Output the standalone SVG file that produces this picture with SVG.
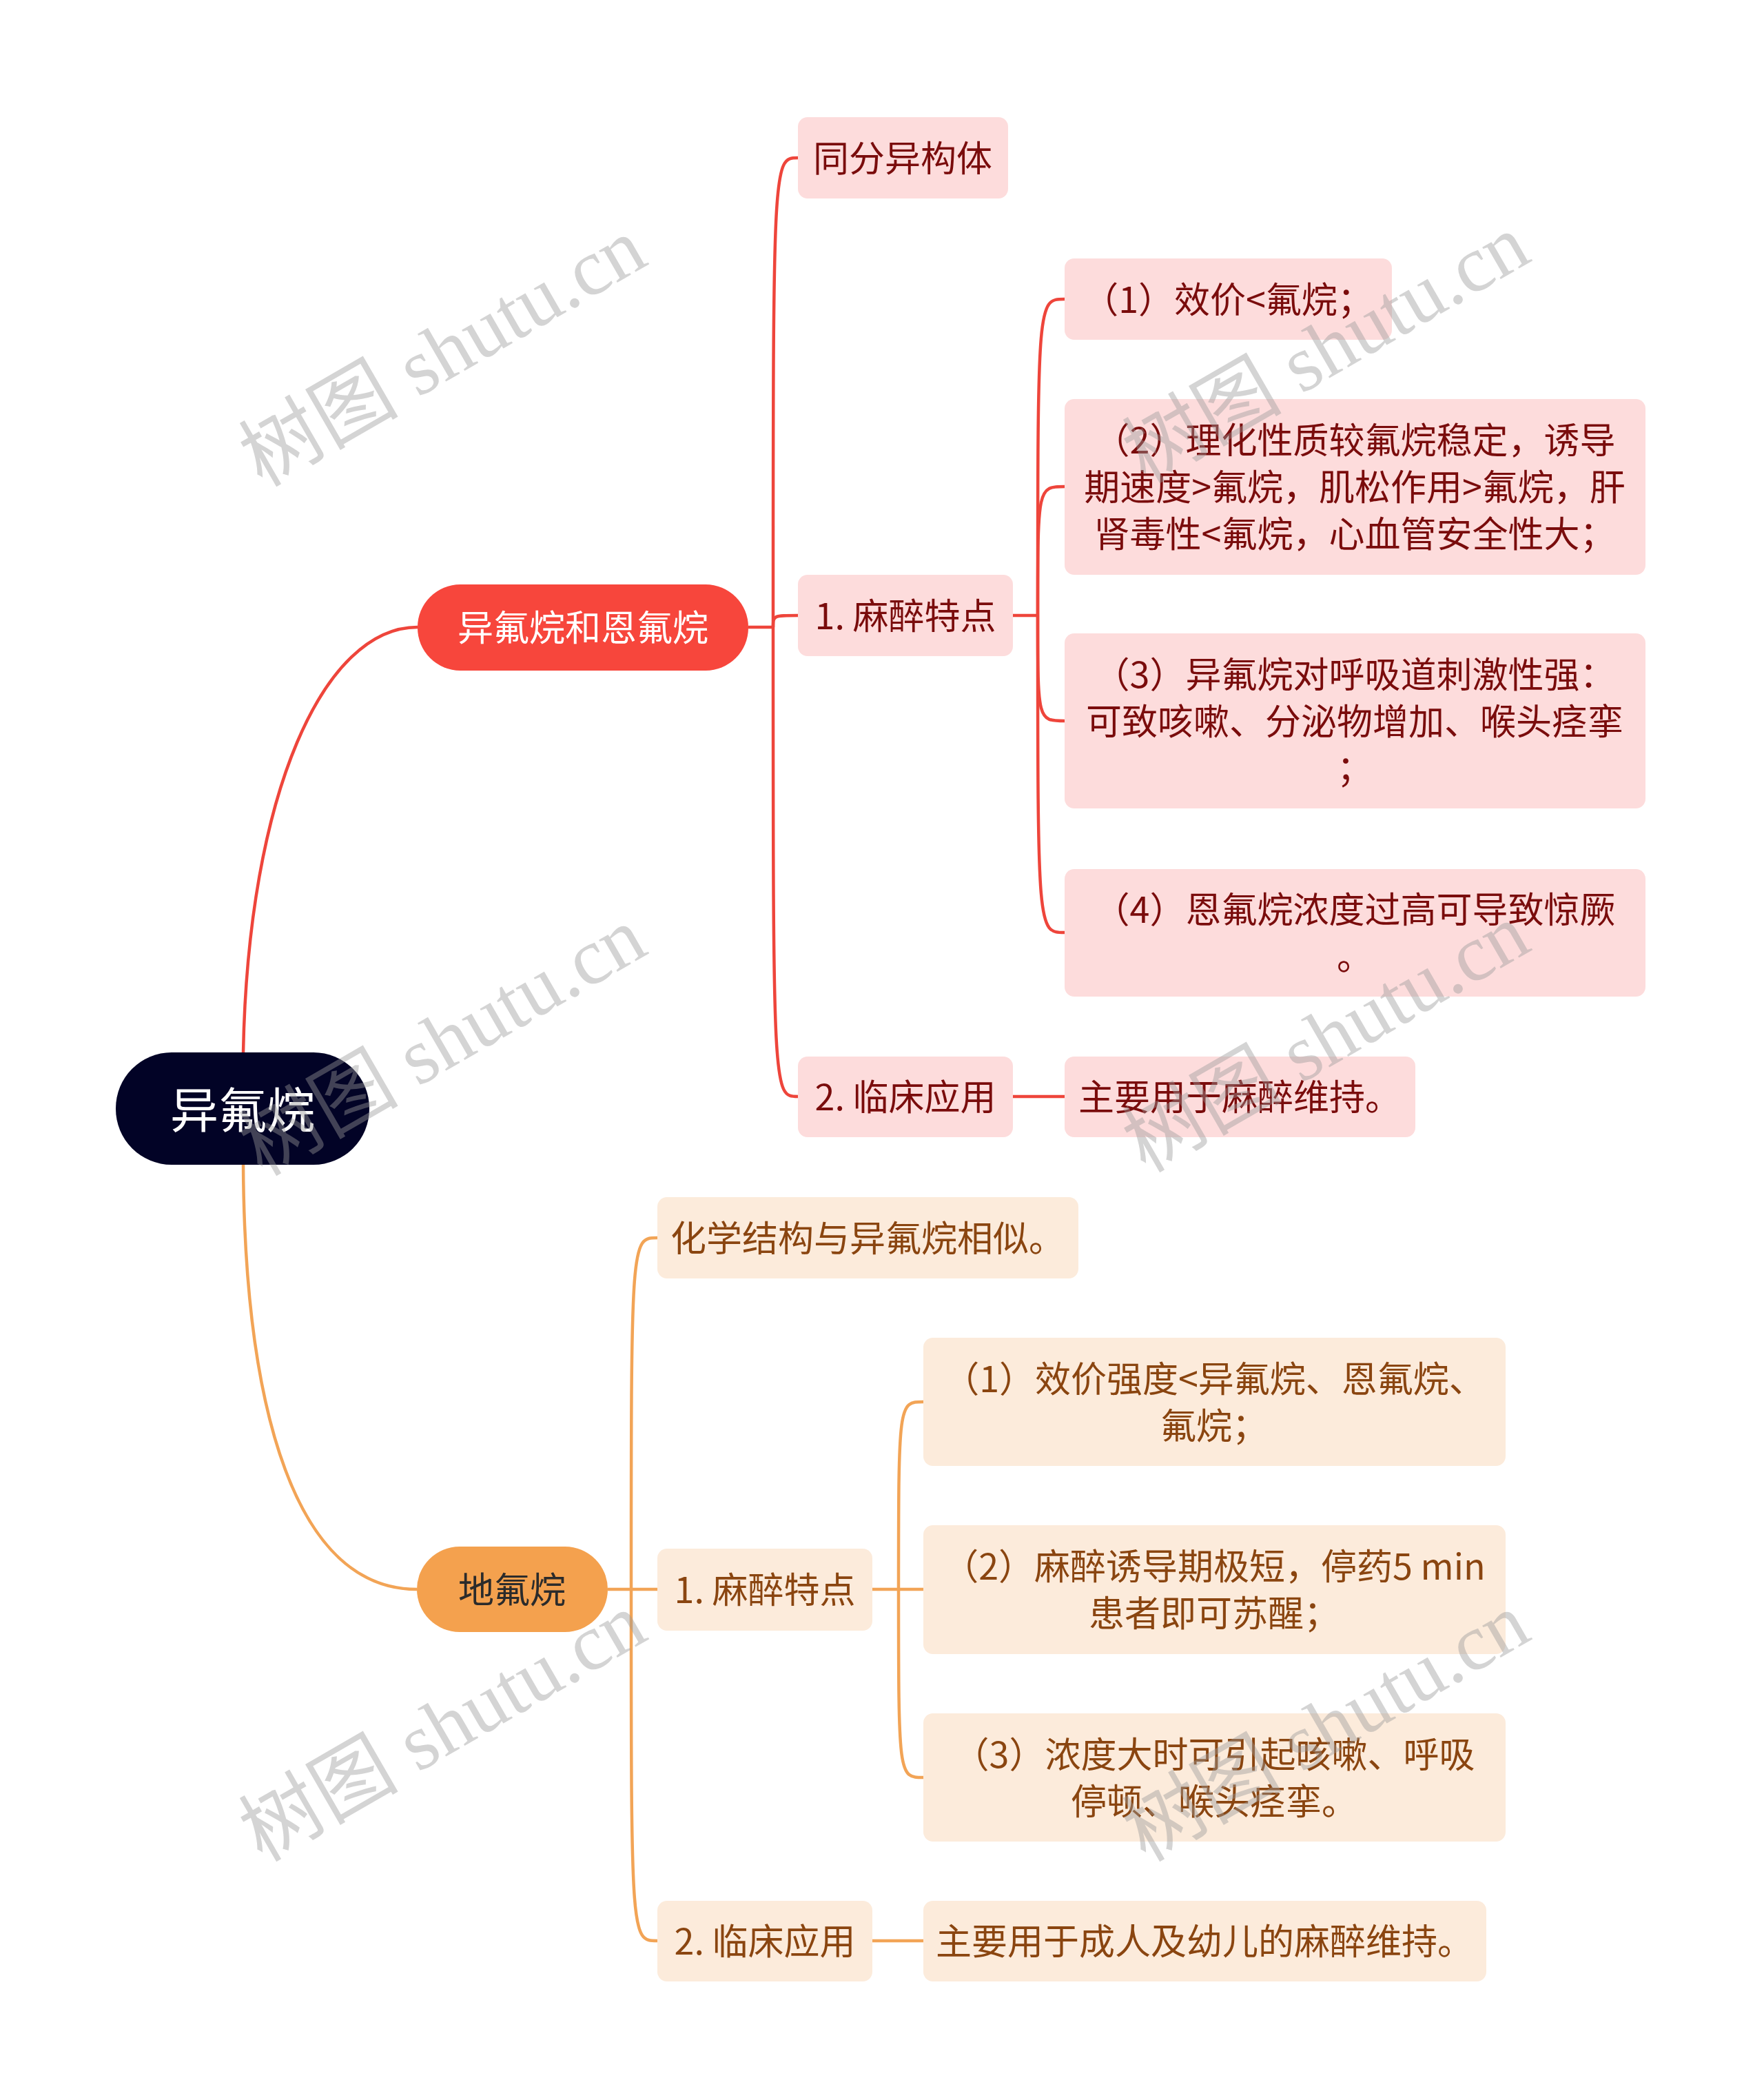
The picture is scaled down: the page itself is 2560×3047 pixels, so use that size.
<svg xmlns="http://www.w3.org/2000/svg" width="2560" height="3047" viewBox="0 0 2560 3047">
<style>
text{font-family:"Noto Sans CJK SC","Noto Sans",sans-serif;text-anchor:middle;dominant-baseline:central}
.root rect{fill:#020326}
.root text{fill:#ffffff;font-size:70px}
.l1r rect{fill:#F7463C}
.l1r text{fill:#ffffff;font-size:52px}
.l1o rect{fill:#F4A14E}
.l1o text{fill:#2B2B2B;font-size:52px}
.r rect{fill:#FDDCDC}
.r text{fill:#7A0C0C;font-size:52px}
.o rect{fill:#FCEBDB}
.o text{fill:#8A4510;font-size:52px}
.cr{fill:none;stroke:#EE453B;stroke-width:4.5}
.co{fill:none;stroke:#F2A456;stroke-width:4.5}
.wm{font-family:"Liberation Serif","Noto Sans CJK SC",serif;font-size:116px;fill:#9a9a9a;opacity:0.42;dominant-baseline:auto}
</style>
<rect width="2560" height="3047" fill="#ffffff"/>
<g id="connectors">
<path class="cr" d="M353 1528 C360 1150 470 910 606 910"/>
<path class="co" d="M353 1688 C355 2050 430 2306 605 2306"/>
<path class="cr" d="M1086 910 H1122"/>
<path class="cr" d="M1122 910 C1122 229 1122 229 1158 229"/>
<path class="cr" d="M1122 910 C1122 893 1122 893 1158 893"/>
<path class="cr" d="M1122 910 C1122 1591 1122 1591 1158 1591"/>
<path class="cr" d="M1470 893 H1506"/>
<path class="cr" d="M1506 893 C1506 434 1506 434 1545 434"/>
<path class="cr" d="M1506 893 C1506 706 1506 706 1545 706"/>
<path class="cr" d="M1506 893 C1506 1046 1506 1046 1545 1046"/>
<path class="cr" d="M1506 893 C1506 1353 1506 1353 1545 1353"/>
<path class="cr" d="M1470 1591 H1545"/>
<path class="co" d="M882 2306 H916"/>
<path class="co" d="M916 2306 C916 1796 916 1796 954 1796"/>
<path class="co" d="M916 2306 H954"/>
<path class="co" d="M916 2306 C916 2816 916 2816 954 2816"/>
<path class="co" d="M1266 2306 H1304"/>
<path class="co" d="M1304 2306 C1304 2034 1304 2034 1340 2034"/>
<path class="co" d="M1304 2306 H1340"/>
<path class="co" d="M1304 2306 C1304 2579 1304 2579 1340 2579"/>
<path class="co" d="M1266 2816 H1340"/>
</g>
<g id="root" class="root"><rect x="168" y="1527" width="368" height="163" rx="81"/><text x="352" y="1606">异氟烷</text></g>
<g id="n1" class="l1r"><rect x="606" y="848" width="480" height="125" rx="62"/><text x="846" y="907">异氟烷和恩氟烷</text></g>
<g id="n1a" class="r"><rect x="1158" y="170" width="305" height="118" rx="14"/><text x="1310" y="226">同分异构体</text></g>
<g id="n1b" class="r"><rect x="1158" y="834" width="312" height="118" rx="14"/><text x="1314" y="890">1. 麻醉特点</text></g>
<g id="n1b1" class="r"><rect x="1545" y="375" width="475" height="118" rx="14"/><text x="1782" y="431">（1）效价&lt;氟烷；</text></g>
<g id="n1b2" class="r"><rect x="1545" y="579" width="843" height="255" rx="14"/><text x="1966" y="635">（2）理化性质较氟烷稳定，诱导</text><text x="1966" y="703">期速度&gt;氟烷，肌松作用&gt;氟烷，肝</text><text x="1966" y="771">肾毒性&lt;氟烷，心血管安全性大；</text></g>
<g id="n1b3" class="r"><rect x="1545" y="919" width="843" height="254" rx="14"/><text x="1966" y="975">（3）异氟烷对呼吸道刺激性强：</text><text x="1966" y="1043">可致咳嗽、分泌物增加、喉头痉挛</text><text x="1966" y="1111">；</text></g>
<g id="n1b4" class="r"><rect x="1545" y="1261" width="843" height="185" rx="14"/><text x="1966" y="1316">（4）恩氟烷浓度过高可导致惊厥</text><text x="1966" y="1384">。</text></g>
<g id="n1c" class="r"><rect x="1158" y="1533" width="312" height="117" rx="14"/><text x="1314" y="1588">2. 临床应用</text></g>
<g id="n1c1" class="r"><rect x="1545" y="1533" width="509" height="117" rx="14"/><text x="1799" y="1588">主要用于麻醉维持。</text></g>
<g id="n2" class="l1o"><rect x="605" y="2244" width="277" height="124" rx="62"/><text x="743" y="2303">地氟烷</text></g>
<g id="n2a" class="o"><rect x="954" y="1737" width="611" height="118" rx="14"/><text x="1259" y="1793">化学结构与异氟烷相似。</text></g>
<g id="n2b" class="o"><rect x="954" y="2247" width="312" height="119" rx="14"/><text x="1110" y="2303">1. 麻醉特点</text></g>
<g id="n2b1" class="o"><rect x="1340" y="1941" width="845" height="186" rx="14"/><text x="1762" y="1997">（1）效价强度&lt;异氟烷、恩氟烷、</text><text x="1762" y="2065">氟烷；</text></g>
<g id="n2b2" class="o"><rect x="1340" y="2213" width="845" height="187" rx="14"/><text x="1762" y="2269">（2）麻醉诱导期极短，停药5 min</text><text x="1762" y="2337">患者即可苏醒；</text></g>
<g id="n2b3" class="o"><rect x="1340" y="2486" width="845" height="186" rx="14"/><text x="1762" y="2542">（3）浓度大时可引起咳嗽、呼吸</text><text x="1762" y="2610">停顿、喉头痉挛。</text></g>
<g id="n2c" class="o"><rect x="954" y="2758" width="312" height="117" rx="14"/><text x="1110" y="2813">2. 临床应用</text></g>
<g id="n2c1" class="o"><rect x="1340" y="2758" width="817" height="117" rx="14"/><text x="1748" y="2813">主要用于成人及幼儿的麻醉维持。</text></g>
<g id="watermarks">
<text class="wm" transform="translate(662 545) rotate(-30)">树图 shutu.cn</text>
<text class="wm" transform="translate(662 1545) rotate(-30)">树图 shutu.cn</text>
<text class="wm" transform="translate(662 2540) rotate(-30)">树图 shutu.cn</text>
<text class="wm" transform="translate(1944 540) rotate(-30)">树图 shutu.cn</text>
<text class="wm" transform="translate(1944 1540) rotate(-30)">树图 shutu.cn</text>
<text class="wm" transform="translate(1944 2540) rotate(-30)">树图 shutu.cn</text>
</g>
</svg>
